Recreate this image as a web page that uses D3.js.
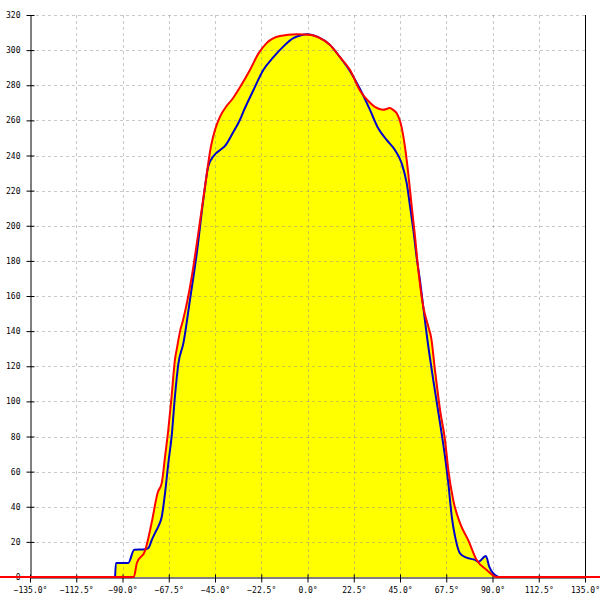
<!DOCTYPE html>
<html>
<head>
<meta charset="utf-8">
<script src="https://cdn.jsdelivr.net/npm/d3@7"></script>
<style>
  html, body { margin: 0; padding: 0; background: #fff; }
  svg { display: block; }
  text { font-family: "DejaVu Sans Mono", monospace; font-size: 8px; fill: #000; }
</style>
</head>
<body>
<svg id="chart" width="600" height="600"></svg>
<script>
// ---- data ----
const xTicks = [-135, -112.5, -90, -67.5, -45, -22.5, 0, 22.5, 45, 67.5, 90, 112.5, 135];
const yTicks = [0, 20, 40, 60, 80, 100, 120, 140, 160, 180, 200, 220, 240, 260, 280, 300, 320];

const redDeg = [-150, -84.5, -83, -79, -75.8, -72.9, -70.9, -69.3, -67.7, -66.1, -64.5, -63.4, -62, -60.6, -56.3, -53.1, -49.9, -47, -45, -42.6, -39.5, -36.9, -32.8, -28, -23.9, -19.9, -13.4, -5.3, 1.2, 6.1, 10.9, 15.8, 20.7, 25.5, 30.4, 33, 36.7, 40.1, 41.6, 43.4, 45.8, 47.4, 49, 50.7, 52.3, 53.9, 56.3, 58.8, 60.2, 62, 64.5, 66.9, 68.5, 70.9, 74.2, 78.2, 82.3, 87.2, 92, 150];
const redVal = [0, 0, 8, 15, 31, 48, 53.5, 68.5, 84, 103, 123.6, 131, 140, 146, 171, 196, 222, 245, 254.6, 262, 268, 271.6, 279, 288.7, 298, 304, 308, 309, 308.7, 306.8, 303, 296, 288.7, 277, 270, 267.5, 266, 267, 266, 264, 256, 245, 230, 211, 194, 175, 154, 142.5, 136, 118, 95, 78, 61, 43.8, 30.7, 21, 9.7, 4, 0, 0];

const blueDeg = [-93.6, -93.2, -87.2, -84.3, -79, -77.4, -75.8, -74.2, -72.5, -70.9, -69.3, -67.7, -66.1, -64.5, -62.8, -60.4, -57.2, -53.9, -50.7, -48.3, -45.5, -42, -40.1, -36.5, -32.8, -31.2, -26.4, -21.5, -16.6, -11.8, -6.9, -3.6, 0, 5, 10.9, 15.8, 20.7, 25.5, 30.4, 34.4, 38.5, 42.6, 45.8, 48.3, 49.9, 51.5, 53.1, 54.7, 56.3, 58, 61.2, 64.5, 66.9, 68.5, 70.2, 71.8, 74.2, 77.4, 81.5, 83.1, 86.8, 88.4, 90.4, 92.8];
const blueVal = [0, 8, 8, 15.5, 15.8, 16.5, 21, 25, 29, 34.3, 47.8, 64.9, 80, 102.7, 121.7, 133, 157.7, 184, 214.7, 233.7, 240, 243.5, 245.5, 252.5, 260.5, 265, 277, 288.7, 296, 302, 306.8, 308.3, 309, 307.5, 303, 296, 288, 278, 266, 255.5, 248.9, 243, 235.6, 224, 211, 197.6, 182, 169, 154, 138, 112, 87.5, 68.5, 53.4, 34.3, 23, 13.5, 11, 9.7, 8.7, 12, 5.9, 2, 0];

// ---- chart ----
const svg = d3.select("#chart");
const x = d3.scaleLinear().domain([-135, 135]).range([30, 585]);
const y = d3.scaleLinear().domain([0, 320]).range([577, 15]);

const red = redDeg.map((d, i) => [d, redVal[i]]);
const blue = blueDeg.map((d, i) => [d, blueVal[i]]);

const curve = d3.curveMonotoneX;
const area = d3.area().curve(curve).x(d => x(d[0])).y0(y(0)).y1(d => y(d[1]));
const line = d3.line().curve(curve).x(d => x(d[0])).y(d => y(d[1]));

svg.append("path").datum(red).attr("d", area).attr("fill", "#ffff00");
svg.append("path").datum(blue).attr("d", area).attr("fill", "#ffff00");

// grid
const grid = svg.append("g").attr("stroke", "#888").attr("stroke-opacity", 0.45)
  .attr("stroke-dasharray", "3,3").attr("stroke-width", 1);
grid.selectAll("line.v").data(xTicks.filter(t => t > -135 && t < 135)).join("line")
  .attr("x1", d => Math.round(x(d)) + 0.5).attr("x2", d => Math.round(x(d)) + 0.5)
  .attr("y1", y(320)).attr("y2", y(0));
grid.selectAll("line.h").data(yTicks.filter(t => t > 0)).join("line")
  .attr("class", "h")
  .attr("x1", x(-135)).attr("x2", x(135))
  .attr("y1", d => Math.round(y(d)) + 0.5).attr("y2", d => Math.round(y(d)) + 0.5);

// right border
svg.append("line").attr("x1", Math.round(x(135)) + 0.5).attr("x2", Math.round(x(135)) + 0.5)
  .attr("y1", y(320)).attr("y2", y(0)).attr("stroke", "#000");

// axes
const yAxis = d3.axisLeft(y).tickValues(yTicks).tickFormat(d3.format("d"))
  .tickSizeInner(4).tickSizeOuter(0).tickPadding(6);
const gy = svg.append("g").attr("transform", `translate(${Math.round(x(-135)) + 0.5},0)`).call(yAxis);
gy.selectAll(".tick line").attr("x2", 4).attr("x1", -4);
gy.select(".domain").attr("stroke", "#000");

const xAxis = d3.axisBottom(x).tickValues(xTicks).tickFormat(d => d3.format(".1f")(d) + "°")
  .tickSizeInner(5).tickSizeOuter(0).tickPadding(5);
const gx = svg.append("g").attr("transform", `translate(0,${Math.round(y(0)) + 0.5})`).call(xAxis);
gx.selectAll(".tick line").attr("y1", -3).attr("y2", 5);
gx.select(".domain").attr("stroke", "#000");
svg.selectAll(".tick text").style("font-family", '"DejaVu Sans Mono", monospace').style("font-size", "8px");

// series lines
svg.append("path").datum(blue).attr("d", line).attr("fill", "none")
  .attr("stroke", "#0000cc").attr("stroke-width", 2).attr("stroke-linejoin", "round");
svg.append("path").datum(red).attr("d", line).attr("fill", "none")
  .attr("stroke", "#ff0000").attr("stroke-width", 2).attr("stroke-linejoin", "round");
</script>
</body>
</html>
